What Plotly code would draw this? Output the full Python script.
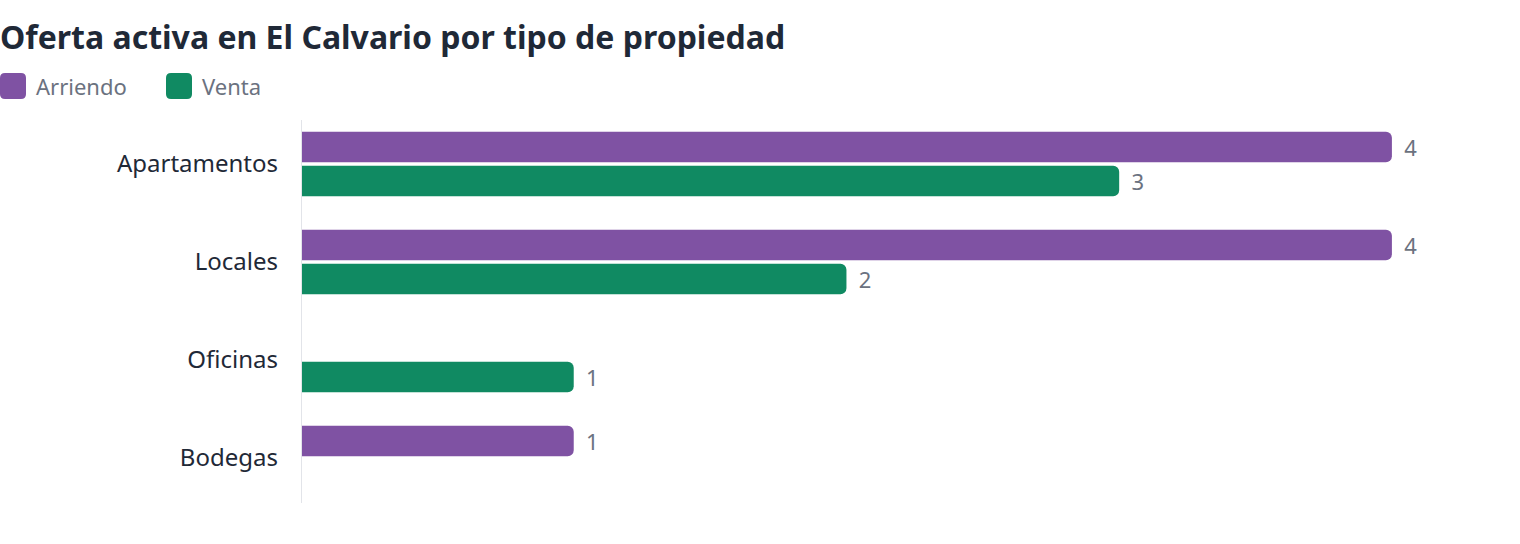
import plotly.graph_objects as go

categories = ["Apartamentos", "Locales", "Oficinas", "Bodegas"]
arriendo = [4, 4, None, 1]
venta = [3, 2, 1, None]
series_names = ["Arriendo", "Venta"]
colors = ["#7F52A3", "#108A62"]
title_text = "Oferta activa en El Calvario por tipo de propiedad"

W, H = 1520, 544
ML, MT, MB = 301, 115, 37
XMAX = 4.4
PW = 1200
MR = W - ML - PW
PH = H - MT - MB

FONT = "Noto Sans, Open Sans, sans-serif"
DARK = "#1f2937"
GRAY = "#6b7280"


def px(x):
    return (x - ML) / PW


def py(y):
    return (MT + PH - y) / PH


def rounded_rect(x0, y0, x1, y1, r):
    pts = [
        ("M", [(x0 + r, y0)]),
        ("L", [(x1 - r, y0)]),
        ("Q", [(x1, y0), (x1, y0 + r)]),
        ("L", [(x1, y1 - r)]),
        ("Q", [(x1, y1), (x1 - r, y1)]),
        ("L", [(x0 + r, y1)]),
        ("Q", [(x0, y1), (x0, y1 - r)]),
        ("L", [(x0, y0 + r)]),
        ("Q", [(x0, y0), (x0 + r, y0)]),
    ]
    s = ""
    for cmd, ps in pts:
        s += cmd + " " + " ".join(f"{px(a):.6f},{py(b):.6f}" for a, b in ps) + " "
    return s + "Z"


fig = go.Figure()
for name, vals, col in zip(series_names, [arriendo, venta], colors):
    fig.add_trace(go.Bar(
        y=categories, x=vals, name=name, orientation="h",
        marker=dict(color=col, cornerradius=6, line=dict(width=0)),
        text=vals, texttemplate="\u00a0\u2009%{x}", textposition="outside",
        textfont=dict(color=GRAY, size=22, family=FONT),
        cliponaxis=False, showlegend=False,
    ))

shapes = [dict(type="line", xref="x", yref="paper", x0=0, x1=0,
               y0=py(503), y1=py(120), line=dict(color="#e2e4e9", width=2), layer="above")]
annotations = []
legend_items = [(0, 34), (166, 200)]
for (mx, tx), name, col in zip(legend_items, series_names, colors):
    shapes.append(dict(type="path", xref="paper", yref="paper",
                       path=rounded_rect(mx, 73, mx + 26, 99, 5),
                       fillcolor=col, line=dict(width=0)))
    annotations.append(dict(text=name, xref="paper", yref="paper", x=px(tx), y=py(85.5),
                            xanchor="left", yanchor="middle", showarrow=False,
                            font=dict(size=22, color=GRAY, family=FONT)))

fig.update_layout(
    width=W, height=H,
    margin=dict(l=ML, r=MR, t=MT, b=MB, pad=0),
    paper_bgcolor="white", plot_bgcolor="white",
    barmode="group", bargap=0.306, bargroupgap=0.097,
    title=dict(text=f"<b>{title_text}</b>", xref="container", yref="container",
               x=0, xanchor="left", y=1 - 38 / H, yanchor="middle",
               font=dict(size=32, color=DARK, family=FONT)),
    xaxis=dict(range=[0, XMAX], showgrid=False, zeroline=False, showticklabels=False,
               showline=False, ticks=""),
    yaxis=dict(autorange="reversed", showgrid=False, zeroline=False, showline=False,
               ticks="", ticklabelstandoff=22,
               tickfont=dict(size=24, color=DARK, family=FONT)),
    shapes=shapes, annotations=annotations,
    font=dict(family=FONT),
)

fig.write_html("out.html")
